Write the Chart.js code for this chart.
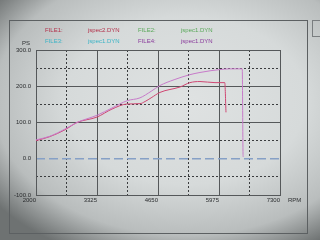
<!DOCTYPE html>
<html>
<head>
<meta charset="utf-8">
<script src="https://cdn.jsdelivr.net/npm/chart.js@4.4.0/dist/chart.umd.min.js"></script>
<style>
  html, body { margin: 0; padding: 0; }
  body {
    width: 320px; height: 240px; overflow: hidden; position: relative;
    background: radial-gradient(ellipse 75% 70% at 58% 42%, #dfe2e2 0%, #d6dada 50%, #b9bdbd 80%, #6e7272 100%);
  }
  #frame { position: absolute; left: 9px; top: 20px; width: 297px; height: 212px; border: 1px solid #5c6062; }
  #tab { position: absolute; left: 312px; top: 20px; width: 12px; height: 15px; border: 1px solid #7a7e80; }
  #wrap { position: absolute; left: 0; top: 0; width: 320px; height: 240px; }
</style>
</head>
<body>
<div id="frame"></div>
<div id="tab"></div>
<div id="wrap"><canvas id="chart" width="320" height="240"></canvas></div>
<script>
// header of the dyno sheet
const fileTags = ["FILE1:", "FILE2:", "FILE3:", "FILE4:"];
const fileNames = ["jspec2.DYN", "jspec1.DYN", "jspec1.DYN", "jspec1.DYN"];

// axis ticks
const xMajor = [2000, 3325, 4650, 5975, 7300];
const xMinor = [2662.5, 3987.5, 5312.5, 6637.5];
const yMajor = [-100, 0, 100, 200, 300];
const yMinor = [-50, 50, 150, 250];

// curves (rpm / PS)
const rpmA = [2000, 2300, 2630, 2890, 3325, 3650, 3977, 4259, 4500, 4693, 5000, 5345, 5562, 5800, 5997, 6200, 6480, 6496, 6500];
const psA  = [52, 62, 82, 100, 120, 140, 160, 168, 186, 202, 218, 232, 238, 243, 246, 248, 248, 20, 5];
const rpmB = [2000, 2300, 2630, 2890, 3325, 3650, 3977, 4259, 4370, 4500, 4693, 5128, 5345, 5562, 5888, 6100, 6127];
const psB  = [50, 61, 80, 100, 115, 137, 151, 152, 158, 168, 183, 198, 210, 213, 210, 210, 128];

const fileColors = ["#b3304a", "#5aa85a", "#3ab4c6", "#8a3c9c"];
const font = { family: "'Liberation Sans', sans-serif", size: 6 };

const setTicks = (vals) => (axis) => { axis.ticks = vals.map(v => ({ value: v })); };

const sheetText = {
  id: "sheetText",
  afterDraw(chart) {
    const ctx = chart.ctx;
    const area = chart.chartArea;
    ctx.save();
    ctx.font = "6px 'Liberation Sans', sans-serif";
    ctx.textBaseline = "middle";
    fileTags.forEach((tag, i) => {
      const x = 45 + (i % 2) * 93;
      const y = 30 + Math.floor(i / 2) * 11;
      ctx.fillStyle = fileColors[i];
      ctx.fillText(tag, x, y);
      ctx.fillText(fileNames[i], x + 43, y);
    });
    ctx.fillStyle = "#2e3032";
    ctx.textAlign = "right";
    ctx.fillText("PS", area.left - 6, area.top - 7);
    ctx.textAlign = "left";
    ctx.fillText("RPM", area.right + 8, area.bottom + 5);
    ctx.restore();
  }
};

new Chart(document.getElementById("chart"), {
  type: "line",
  data: {
    datasets: [
      {
        data: rpmA.map((r, i) => ({ x: r, y: psA[i] })),
        borderColor: "#c77ac9",
        borderWidth: 1,
        pointRadius: 0,
        cubicInterpolationMode: "monotone"
      },
      {
        data: rpmB.map((r, i) => ({ x: r, y: psB[i] })),
        borderColor: "#cf4672",
        borderWidth: 1,
        pointRadius: 0,
        cubicInterpolationMode: "monotone"
      }
    ]
  },
  options: {
    responsive: false,
    animation: false,
    layout: { padding: { top: 50, right: 40, left: 0, bottom: 0 } },
    plugins: { legend: { display: false }, tooltip: { enabled: false } },
    scales: {
      x: {
        type: "linear", min: 2000, max: 7300,
        afterBuildTicks: setTicks(xMajor),
        afterFit: (a) => { a.height = 45; },
        grid: { color: "#55585a", lineWidth: 1, drawTicks: false },
        border: { color: "#55585a" },
        ticks: { font: font, color: "#2a2c2e", align: "end", padding: 2, maxRotation: 0, callback: (v) => String(v) }
      },
      x2: {
        type: "linear", min: 2000, max: 7300, position: "bottom",
        afterBuildTicks: setTicks(xMinor),
        afterFit: (a) => { a.height = 0; },
        grid: { color: "#3a3c3e", lineWidth: 1, drawTicks: false },
        border: { display: false, dash: [2, 2] },
        ticks: { display: false }
      },
      y: {
        min: -100, max: 300,
        afterBuildTicks: setTicks(yMajor),
        afterFit: (a) => { a.width = 36; },
        grid: {
          color: (c) => (c.tick && c.tick.value === 0 ? "rgba(0,0,0,0)" : "#55585a"),
          lineWidth: 1, drawTicks: false
        },
        border: { color: "#55585a" },
        ticks: { font: font, color: "#2a2c2e", padding: 5, callback: (v) => v.toFixed(1) }
      },
      y2: {
        min: -100, max: 300, position: "left",
        afterBuildTicks: setTicks(yMinor),
        afterFit: (a) => { a.width = 0; },
        grid: { color: "#3a3c3e", lineWidth: 1, drawTicks: false },
        border: { display: false, dash: [2, 2] },
        ticks: { display: false }
      },
      y3: {
        min: -100, max: 300, position: "left",
        afterBuildTicks: setTicks([0]),
        afterFit: (a) => { a.width = 0; },
        grid: { color: "#86a0c6", lineWidth: 1.5, drawTicks: false },
        border: { display: false, dash: [9, 4] },
        ticks: { display: false }
      }
    }
  },
  plugins: [sheetText]
});
</script>
</body>
</html>
